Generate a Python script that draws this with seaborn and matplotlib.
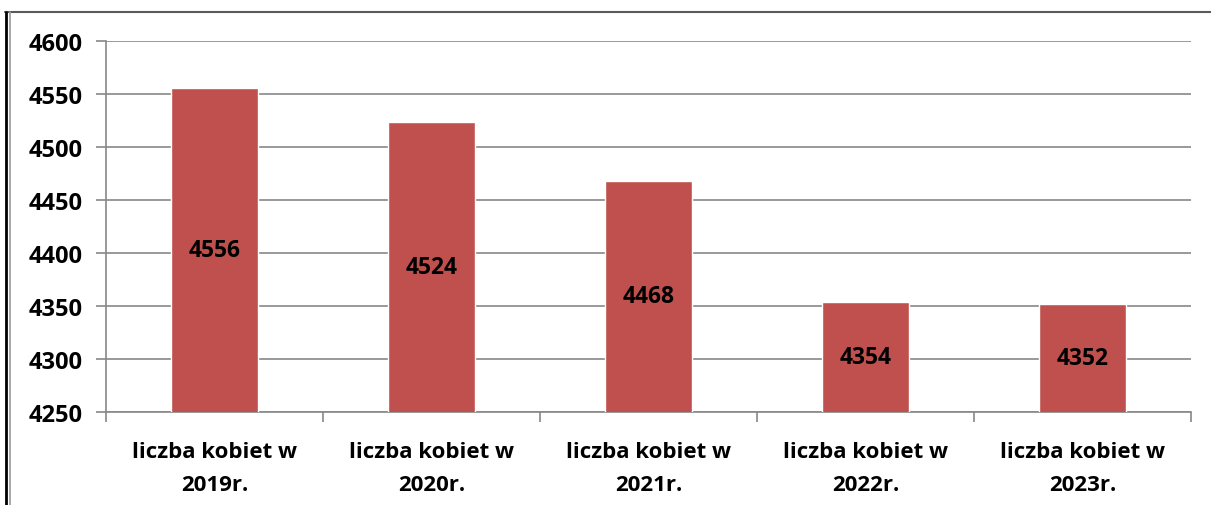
import matplotlib
matplotlib.use("Agg")
import matplotlib.pyplot as plt
import seaborn as sns
import pandas as pd
from matplotlib.lines import Line2D

categories = ["liczba kobiet w\n2019r.", "liczba kobiet w\n2020r.", "liczba kobiet w\n2021r.",
              "liczba kobiet w\n2022r.", "liczba kobiet w\n2023r."]
values = [4556, 4524, 4468, 4354, 4352]
y_ticks = [4250, 4300, 4350, 4400, 4450, 4500, 4550, 4600]

sns.set_theme(style="white")
plt.rcParams['font.family'] = ['Open Sans', 'DejaVu Sans']

df = pd.DataFrame({"cat": categories, "val": values})

fig = plt.figure(figsize=(12.11, 5.06), dpi=100)
ax = fig.add_axes([106/1211, 1-413/506, (1191-106)/1211, (413-42)/506])

sns.barplot(data=df, x="cat", y="val", color="#C0504D", width=0.4, saturation=1, ax=ax, zorder=3)

ax.set_ylim(y_ticks[0], y_ticks[-1])
ax.set_xlim(-0.5, len(categories) - 0.5)
ax.set_yticks(y_ticks)
ax.set_yticklabels([str(t) for t in y_ticks], fontsize=17, fontweight="bold", color="black")
ax.yaxis.grid(True, color="#888888", linewidth=1.2, zorder=0)
ax.set_axisbelow(True)
ax.set_xlabel("")
ax.set_ylabel("")

ax.set_xticks(range(len(categories)))
ax.set_xticklabels(categories, fontsize=16, fontweight="bold", color="black", linespacing=1.75)
ax.set_xticks([i - 0.5 for i in range(len(categories) + 1)], minor=True)
ax.tick_params(axis="x", which="major", length=0, pad=21)
ax.tick_params(axis="x", which="minor", length=7, width=1.2, color="#888888", direction="out", bottom=True)
ax.tick_params(axis="y", length=7, width=1.2, color="#888888", direction="out", left=True, pad=10)

for s in ["top", "right"]:
    ax.spines[s].set_visible(False)
for s in ["left", "bottom"]:
    ax.spines[s].set_color("#888888")
    ax.spines[s].set_linewidth(1.2)

for i, v in enumerate(values):
    ax.text(i, (y_ticks[0] + v) / 2, str(v), ha="center", va="center",
            fontsize=16.5, fontweight="bold", color="black", zorder=4)

# chart frame
fig.add_artist(Line2D([5/1211, 1], [1-12.5/506, 1-12.5/506], color="#5a5a5a", linewidth=1.5, transform=fig.transFigure))
fig.add_artist(Line2D([6/1211, 6/1211], [0, 1-12.5/506], color="black", linewidth=2, transform=fig.transFigure))
fig.add_artist(Line2D([10.5/1211, 10.5/1211], [0, 1-12.5/506], color="#999999", linewidth=1.2, transform=fig.transFigure))

fig.savefig("out.png", dpi=100, facecolor="white")
